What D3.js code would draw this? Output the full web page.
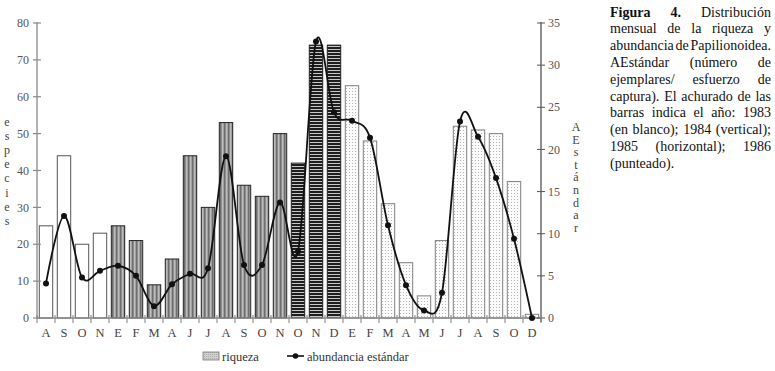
<!DOCTYPE html>
<html><head><meta charset="utf-8">
<script src="https://cdn.jsdelivr.net/npm/d3@7"></script>
<style>
html,body{margin:0;padding:0;background:#fff;}
svg{display:block;}
</style></head>
<body><svg id="chart" width="775" height="371"></svg>
<script>
const months = ["A","S","O","N","E","F","M","A","J","J","A","S","O","N","O","N","D","E","F","M","A","M","J","J","A","S","O","D"];
const years = [1983,1983,1983,1983,1984,1984,1984,1984,1984,1984,1984,1984,1984,1984,1985,1985,1985,1986,1986,1986,1986,1986,1986,1986,1986,1986,1986,1986];
const riqueza = [25,44,20,23,25,21,9,16,44,30,53,36,33,50,42,74,74,63,48,31,15,6,21,52,51,50,37,1];
const abundancia = [4.1,12.1,4.8,5.6,6.2,5.0,1.4,4.0,5.25,5.9,19.2,6.3,6.3,13.7,7.9,32.8,24.4,23.4,21.4,11.0,3.9,0.9,3.0,23.3,21.5,16.6,9.4,0];
const leftTicks = [0,10,20,30,40,50,60,70,80];
const rightTicks = [0,5,10,15,20,25,30,35];
const leftTitle = "especies";
const rightTitle = "AEstándar";
const legendLabels = ["riqueza","abundancia estándar"];
const captionLines = [
  [["Figura",true],["4.",true],["Distribución",false]],
  [["mensual",false],["de",false],["la",false],["riqueza",false],["y",false]],
  [["abundancia",false],["de",false],["Papilionoidea.",false]],
  [["AEstándar",false],["(número",false],["de",false]],
  [["ejemplares/",false],["esfuerzo",false],["de",false]],
  [["captura).",false],["El",false],["achurado",false],["de",false],["las",false]],
  [["barras",false],["indica",false],["el",false],["año:",false],["1983",false]],
  [["(en",false],["blanco);",false],["1984",false],["(vertical);",false]],
  [["1985",false],["(horizontal);",false],["1986",false]],
  [["(punteado).",false]]
];

const FONT = "Liberation Serif";
const svg = d3.select("#chart");
const X0 = 37, X1 = 541, Y0 = 318, Y1 = 23;

const defs = svg.append("defs");
const p84 = defs.append("pattern").attr("id","p1984").attr("patternUnits","userSpaceOnUse").attr("width",4).attr("height",4);
p84.append("rect").attr("width",4).attr("height",4).attr("fill","#9a9a9a");
p84.append("rect").attr("x",0).attr("width",1.3).attr("height",4).attr("fill","#6e6e6e");
p84.append("rect").attr("x",2).attr("width",1.2).attr("height",4).attr("fill","#bdbdbd");
const p85 = defs.append("pattern").attr("id","p1985").attr("patternUnits","userSpaceOnUse").attr("width",4).attr("height",3);
p85.append("rect").attr("width",4).attr("height",3).attr("fill","#1e1e1e");
p85.append("rect").attr("y",1).attr("width",4).attr("height",1).attr("fill","#c8c8c8");
const p86 = defs.append("pattern").attr("id","p1986").attr("patternUnits","userSpaceOnUse").attr("width",3).attr("height",3);
p86.append("rect").attr("width",3).attr("height",3).attr("fill","#fbfbfb");
p86.append("circle").attr("cx",1.5).attr("cy",1.5).attr("r",0.55).attr("fill","#a8a8a8");
const pLeg = defs.append("pattern").attr("id","pleg").attr("patternUnits","userSpaceOnUse").attr("width",2).attr("height",2);
pLeg.append("rect").attr("width",2).attr("height",2).attr("fill","#cfcfcf");
pLeg.append("rect").attr("width",1).attr("height",1).attr("fill","#b0b0b0");

const fillFor = {1983:"#ffffff",1984:"url(#p1984)",1985:"url(#p1985)",1986:"url(#p1986)"};
const strokeFor = {1983:"#555",1984:"#222",1985:"#222",1986:"#808080"};

const x = d3.scaleBand().domain(d3.range(months.length)).range([X0,X1]).paddingInner(0.2).paddingOuter(0.1);
const yL = d3.scaleLinear().domain([0,80]).range([Y0,Y1]);
const yR = d3.scaleLinear().domain([0,35]).range([Y0,Y1]);

function txt(sel){ return sel.style("font-family",FONT); }

svg.append("g").selectAll("rect").data(riqueza).join("rect")
  .attr("x",(d,i)=>x(i)+0.5).attr("width",x.bandwidth()-1)
  .attr("y",d=>yL(d)).attr("height",d=>Y0-yL(d))
  .attr("fill",(d,i)=>fillFor[years[i]])
  .attr("stroke",(d,i)=>strokeFor[years[i]]).attr("stroke-width",1);

const axisCol = "#8a8a8a";
svg.append("line").attr("x1",X0).attr("x2",X0).attr("y1",Y0).attr("y2",Y1-1).attr("stroke",axisCol).attr("stroke-width",1.3);
svg.append("line").attr("x1",X1).attr("x2",X1).attr("y1",Y0+4).attr("y2",Y1-1).attr("stroke","#333").attr("stroke-width",1.1);
svg.append("line").attr("x1",X0).attr("x2",X1).attr("y1",Y0).attr("y2",Y0).attr("stroke",axisCol).attr("stroke-width",1.3);

const gl = svg.append("g");
leftTicks.forEach(t=>{
  gl.append("line").attr("x1",X0-4).attr("x2",X0+4).attr("y1",yL(t)).attr("y2",yL(t)).attr("stroke",axisCol).attr("stroke-width",1.2);
  txt(gl.append("text")).attr("x",X0-8).attr("y",yL(t)).attr("dy","0.35em").attr("text-anchor","end").attr("font-size",12).attr("fill","#555").text(t);
});
rightTicks.forEach(t=>{
  gl.append("line").attr("x1",X1-4).attr("x2",X1+4).attr("y1",yR(t)).attr("y2",yR(t)).attr("stroke","#555").attr("stroke-width",1);
  txt(gl.append("text")).attr("x",X1+7).attr("y",yR(t)).attr("dy","0.35em").attr("text-anchor","start").attr("font-size",12).attr("fill","#555").text(t);
});
d3.range(months.length+1).forEach(i=>{
  const xx = X0 + x.step()*i;
  gl.append("line").attr("x1",xx).attr("x2",xx).attr("y1",Y0-3).attr("y2",Y0+5).attr("stroke",axisCol).attr("stroke-width",1.1);
});
months.forEach((m,i)=>{
  txt(gl.append("text")).attr("x",x(i)+x.bandwidth()/2).attr("y",337).attr("text-anchor","middle").attr("font-size",12.5).attr("fill","#444").text(m);
});

leftTitle.split("").forEach((c,i)=>{
  txt(svg.append("text")).attr("x",7).attr("y",126+i*14.1).attr("text-anchor","middle").attr("font-size",12).attr("fill","#444").text(c);
});
rightTitle.split("").forEach((c,i)=>{
  txt(svg.append("text")).attr("x",576).attr("y",131+i*12.6).attr("text-anchor","middle").attr("font-size",12).attr("fill","#444").text(c);
});

const pts = abundancia.map((v,i)=>[x(i)+x.bandwidth()/2, yR(v)]);
svg.append("path").attr("d",d3.line().curve(d3.curveCardinal.tension(0))(pts))
  .attr("fill","none").attr("stroke","#111").attr("stroke-width",1.8);
svg.append("g").selectAll("circle").data(pts).join("circle")
  .attr("cx",d=>d[0]).attr("cy",d=>d[1]).attr("r",3).attr("fill","#111");

svg.append("rect").attr("x",203).attr("y",352).attr("width",16).attr("height",8).attr("fill","url(#pleg)").attr("stroke","#777").attr("stroke-width",0.8);
txt(svg.append("text")).attr("x",222).attr("y",361).attr("font-size",12.5).attr("fill","#333").text(legendLabels[0]);
svg.append("line").attr("x1",287).attr("x2",304).attr("y1",356).attr("y2",356).attr("stroke","#111").attr("stroke-width",1.6);
svg.append("circle").attr("cx",295.5).attr("cy",356).attr("r",2.8).attr("fill","#111");
txt(svg.append("text")).attr("x",307).attr("y",361).attr("font-size",12.5).attr("fill","#333").text(legendLabels[1]);

const CX0 = 610, CX1 = 771, lh = 16.8, cy0 = 16.5;
captionLines.forEach((words,li)=>{
  const y = cy0 + li*lh;
  const nodes = words.map(([w,b])=> txt(svg.append("text")).attr("y",y).attr("font-size",14).attr("fill","#111")
      .attr("font-weight",b?"bold":"normal").text(w));
  const widths = nodes.map(n=>n.node().getComputedTextLength());
  const sum = d3.sum(widths);
  const last = li===captionLines.length-1;
  let gap = last ? 3.5 : (words.length>1 ? (CX1-CX0-sum)/(words.length-1) : 0);
  let scale = 1;
  if (gap < 0.5 && !last) { gap = 0.5; scale = (CX1-CX0-gap*(words.length-1))/sum; }
  let cx = CX0;
  nodes.forEach((n,k)=>{
    n.attr("x",cx);
    if (scale<1) n.attr("textLength",widths[k]*scale).attr("lengthAdjust","spacingAndGlyphs");
    cx += widths[k]*scale + gap;
  });
});
</script></body></html>
